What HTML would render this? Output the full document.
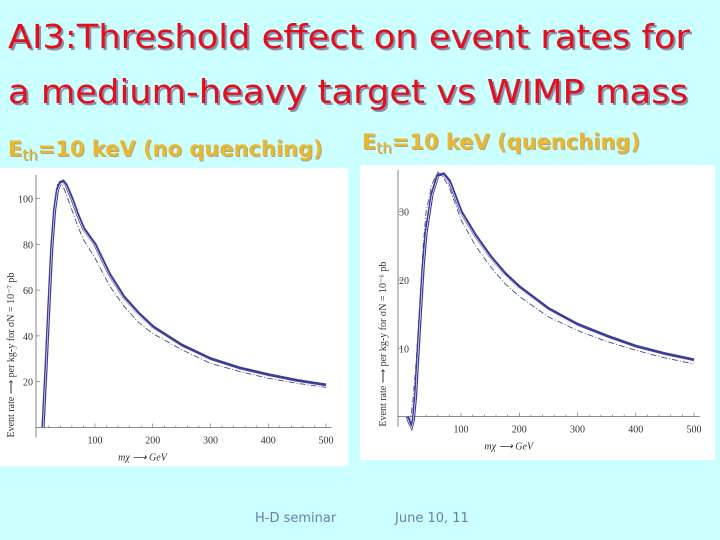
<!DOCTYPE html>
<html><head><meta charset="utf-8"><style>
html,body{margin:0;padding:0;background:#ccffff;}
svg{display:block;font-family:"DejaVu Sans","Liberation Sans",sans-serif;}
</style></head><body>
<svg id="slide" width="720" height="540" viewBox="0 0 720 540">
<rect width="720" height="540" fill="#ccffff"/>
<g font-size="33">
<text x="10" y="50" fill="#8a8fb0" textLength="682" lengthAdjust="spacingAndGlyphs">AI3:Threshold effect on event rates for</text>
<text x="8" y="48" fill="#e3101c" textLength="682" lengthAdjust="spacingAndGlyphs">AI3:Threshold effect on event rates for</text>
<text x="10" y="105" fill="#8a8fb0" textLength="680" lengthAdjust="spacingAndGlyphs">a medium-heavy target vs WIMP mass</text>
<text x="8" y="103" fill="#e3101c" textLength="680" lengthAdjust="spacingAndGlyphs">a medium-heavy target vs WIMP mass</text>
</g>
<g font-weight="bold" font-size="21">
<text x="9" y="157" fill="#a8a890">E<tspan font-size="15" font-weight="normal" dy="4">th</tspan><tspan dy="-4">=10 keV (no quenching)</tspan></text>
<text x="8" y="156" fill="#e8b830">E<tspan font-size="15" font-weight="normal" dy="4">th</tspan><tspan dy="-4">=10 keV (no quenching)</tspan></text>
</g>
<g font-weight="bold" font-size="21">
<text x="363" y="150" fill="#a8a890">E<tspan font-size="15" font-weight="normal" dy="4">th</tspan><tspan dy="-4">=10 keV (quenching)</tspan></text>
<text x="362" y="149" fill="#e8b830">E<tspan font-size="15" font-weight="normal" dy="4">th</tspan><tspan dy="-4">=10 keV (quenching)</tspan></text>
</g>
<rect x="0" y="168" width="348" height="298" fill="#ffffff"/>
<rect x="360" y="165" width="355" height="295" fill="#ffffff"/>
<g id="left"></g>
<g id="right"></g>
<text x="255" y="522" font-size="13" fill="#6b7fa8">H-D seminar</text>
<text x="395" y="522" font-size="13" fill="#6b7fa8">June 10, 11</text>
</svg>
<script>
const xTicks=[100,200,300,400,500];
const leftYTicks=[20,40,60,80,100];
const rightYTicks=[10,20,30];
const leftMass=[10,15,20,25,30,35,40,45,50,60,70,80,100,125,150,175,200,250,300,350,400,450,500];
const leftMain=[0,25,52,78,95,104,107,107.5,106,100,93,87,80,67,57,50,44,36,30,26,23,20.5,18.5];
const leftLow=[0,27,55,82,98,106,107,105,102,95,88,82,74,62,53,46,41,34,28,24.5,21.5,19.3,17.5];
const rightMass=[8,10,12,15,18,22,26,30,35,40,50,60,70,80,100,125,150,175,200,250,300,350,400,450,500];
const rightMain=[0,-0.5,-1,-1.5,-0.5,3,9,15,22,27,32.5,35.3,35.5,34.5,30,26.5,23.5,21,19,15.8,13.5,11.8,10.3,9.2,8.3];
const rightLow=[0,-0.3,-0.5,0.5,3,7,12,18,25,30,34,35.8,35,33.5,28.8,25,22,19.5,17.6,14.6,12.6,11,9.7,8.6,7.7];
const NS="http://www.w3.org/2000/svg";
function mk(tag,attrs,parent){const e=document.createElementNS(NS,tag);for(const k in attrs)e.setAttribute(k,attrs[k]);parent.appendChild(e);return e;}
function draw(g,cfg){
  const sx=v=>cfg.x0+v*cfg.kx, sy=v=>cfg.y0-v*cfg.ky;
  const ax=mk('line',{x1:cfg.axX,y1:cfg.y0,x2:sx(510),y2:cfg.y0,stroke:'#666','stroke-width':0.8},g);
  
  
  const ay=mk('line',{x1:cfg.axX,y1:cfg.y0+10,x2:cfg.axX,y2:cfg.top,stroke:'#666','stroke-width':0.8},g);
  
  
  for(let m=20;m<=500;m+=20){mk('line',{x1:sx(m),y1:cfg.y0,x2:sx(m),y2:cfg.y0-(m%100?2:4),stroke:'#666','stroke-width':0.6},g);}
  xTicks.forEach(t=>{const tx=mk('text',{x:sx(t),y:cfg.y0+16,'font-size':10,'text-anchor':'middle',fill:'#333','font-family':'Liberation Serif,serif'},g);tx.textContent=t;
    
    });
  cfg.yTicks.forEach(t=>{const tx=mk('text',{x:cfg.tickX,y:sy(t)+4,'font-size':10,'text-anchor':'end',fill:'#333','font-family':'Liberation Serif,serif'},g);tx.textContent=t;
    
    
    mk('line',{x1:cfg.axX,y1:sy(t),x2:cfg.axX+4,y2:sy(t),stroke:'#666','stroke-width':0.6},g);});
  const xl=mk('text',{x:sx(cfg.xlabX),y:cfg.y0+33,'font-size':10,fill:'#333','font-family':'Liberation Serif,serif','font-style':'italic'},g);xl.textContent='mχ ⟶ GeV';
  
  
  const yl=mk('text',{x:0,y:0,'font-size':10,fill:'#333','font-family':'Liberation Serif,serif',transform:`translate(${cfg.ylabX},${cfg.y0+10}) rotate(-90)`},g);yl.textContent=cfg.ylab;
  
  
  const path=(xs,ys,dy)=>xs.map((m,i)=>(i?'L':'M')+sx(m).toFixed(1)+','+(sy(ys[i])+dy).toFixed(1)).join(' ');
  const l1=mk('path',{d:path(cfg.mass,cfg.low,0),fill:'none',stroke:'#4a4a8c','stroke-width':0.9,'stroke-dasharray':'6,2,1,2'},g);
  
  
  const l2=mk('path',{d:path(cfg.mass,cfg.main,0),fill:'none',stroke:'#3c3c9a','stroke-width':3.2},g);
  
  
  const l3=mk('path',{d:path(cfg.mass,cfg.main,1.5),fill:'none',stroke:'#fff','stroke-width':0.6},g);
  
  
}
draw(document.getElementById('left'),{x0:37.25,kx:0.5775,y0:427.5,ky:2.29,axX:36,tickX:33,top:175,yTicks:leftYTicks,mass:leftMass,main:leftMain,low:leftLow,xlabX:140,ylabX:14,ylab:'Event rate ⟶ per kg-y for σN = 10⁻⁷ pb'});
draw(document.getElementById('right'),{x0:402.8,kx:0.5825,y0:416.6,ky:6.83,axX:398,tickX:409,top:170,yTicks:rightYTicks,mass:rightMass,main:rightMain,low:rightLow,xlabX:140,ylabX:386,ylab:'Event rate ⟶ per kg-y for σN = 10⁻⁶ pb'});
</script>
</body></html>
